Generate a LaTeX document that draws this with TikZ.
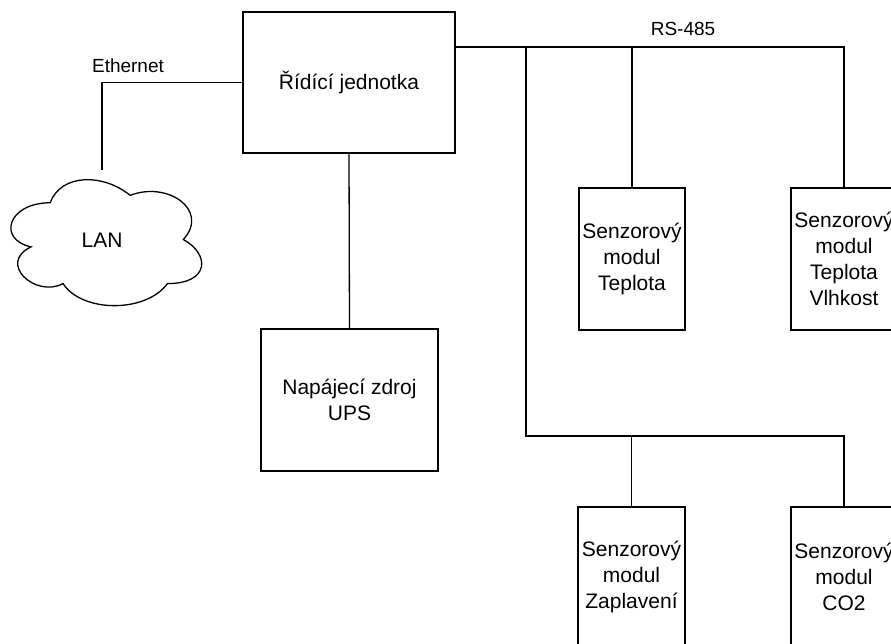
\documentclass[tikz,border=0pt]{standalone}
\usepackage{fontspec}
\setmainfont{Liberation Sans}
\begin{document}
\begin{tikzpicture}[x=1pt,y=-1pt,
  line width=1.3pt,
  box/.style={draw, rectangle, inner sep=0pt, align=center,
    font=\fontsize{21}{26}\selectfont},
  lbl/.style={inner sep=0pt, font=\fontsize{19}{22}\selectfont},
  wire/.style={draw, line width=1.3pt}]
\useasboundingbox (0,0) rectangle (891,643);
\clip (0,0) rectangle (891,643);
\fill[white] (0,0) rectangle (891,643);

% nodes
\node[box, minimum width=212pt, minimum height=141pt] (ctrl) at (349,82.5) {Řídící jednotka};
\node[box, minimum width=177pt, minimum height=142pt] (ups) at (349.5,400) {Napájecí zdroj\\UPS};
\node[box, minimum width=106pt, minimum height=142pt] (teplota) at (632,259) {Senzorový\\modul\\Teplota};
\node[box, minimum width=106pt, minimum height=142pt] (vlhkost) at (844,259) {Senzorový\\modul\\Teplota\\Vlhkost};
\node[box, minimum width=107pt, minimum height=140pt] (zaplav) at (631.5,577) {Senzorový\\modul\\Zaplavení};
\node[box, minimum width=106pt, minimum height=140pt] (co2) at (844,577) {Senzorový\\modul\\CO2};

% cloud
\draw (50.25,202.75)
  .. controls (7.65,202.75) and (-3,239.5) .. (31.08,246.85)
  .. controls (-3,263.02) and (35.34,298.3) .. (63.03,283.6)
  .. controls (82.2,313) and (146.1,313) .. (167.4,283.6)
  .. controls (210,283.6) and (210,254.2) .. (183.375,239.5)
  .. controls (210,210.1) and (167.4,180.7) .. (130.125,195.4)
  .. controls (103.5,173.35) and (60.9,173.35) .. (50.25,202.75) -- cycle;
\node[inner sep=0pt, font=\fontsize{21}{26}\selectfont] (lan) at (102,240) {LAN};

% labels
\node[lbl, anchor=base] (eth) at (128,72) {Ethernet};
\node[lbl, anchor=base] (rs) at (683,35) {RS-485};

% connector coordinates
\coordinate (ethend) at (102,170);
\coordinate (busR) at (844,47);
\coordinate (bus2) at (526,436);

% connectors
\draw (ctrl.west) -| (ethend);
\draw (ctrl.south) -- (ups.north);
\draw (ctrl.east |- busR) -| (vlhkost.north);
\draw (teplota.north) -- (teplota.north |- busR);
\draw (bus2 |- busR) -- (bus2) -| (co2.north);
\draw (zaplav.north) -- (zaplav.north |- bus2);
\end{tikzpicture}
\end{document}
